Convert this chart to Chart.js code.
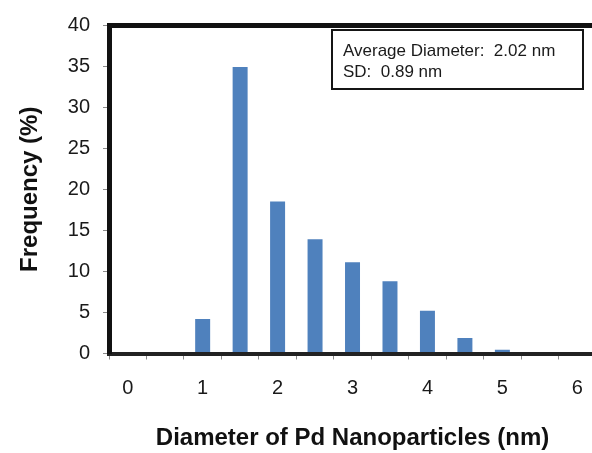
<!DOCTYPE html>
<html>
<head>
<meta charset="utf-8">
<title>Pd nanoparticle size distribution</title>
<script src="https://cdn.jsdelivr.net/npm/chart.js@4/dist/chart.umd.min.js"></script>
<style>
    html, body { margin: 0; padding: 0; background: #fff; }
    #wrap { width: 592px; height: 453px; overflow: hidden; }
</style>
</head>
<body>
<div id="wrap"><canvas id="sizeChart" width="600" height="453"></canvas></div>
<script>
// particle size bins (nm) and the share of particles in each (%)
const diameters = ['0', '0.5', '1', '1.5', '2', '2.5', '3', '3.5', '4', '4.5', '5', '5.5', '6'];
const frequency = [0, 0, 4.2, 34.9, 18.5, 13.9, 11.1, 8.8, 5.2, 1.9, 0.45, 0.15, 0.15];
const yTicks = [0, 5, 10, 15, 20, 25, 30, 35, 40];

const avgDiameter = 2.02;
const sdDiameter = 0.89;

Chart.defaults.font.family = '"Liberation Sans", Arial, sans-serif';
Chart.defaults.color = '#1a1a1a';

// little framed box with the mean / SD in the top right corner
const statsBox = {
    id: 'statsBox',
    afterDraw(chart) {
        const ctx = chart.ctx;
        ctx.save();
        ctx.fillStyle = '#fff';
        ctx.fillRect(332, 30, 251, 59);
        ctx.strokeStyle = '#151515';
        ctx.lineWidth = 2;
        ctx.strokeRect(332, 30, 251, 59);
        ctx.fillStyle = '#1a1a1a';
        ctx.font = '17px "Liberation Sans", Arial, sans-serif';
        ctx.textBaseline = 'alphabetic';
        ctx.fillText('Average Diameter:  ' + avgDiameter.toFixed(2) + ' nm', 343, 56);
        ctx.fillText('SD:  ' + sdDiameter.toFixed(2) + ' nm', 343, 77);
        ctx.restore();
    }
};

new Chart(document.getElementById('sizeChart'), {
    type: 'bar',
    data: {
        labels: diameters,
        datasets: [{
            data: frequency,
            backgroundColor: '#4F81BD',
            barPercentage: 0.4,
            categoryPercentage: 1
        }]
    },
    options: {
        responsive: false,
        animation: false,
        layout: {padding: {top: 21.5, right: 3.5, bottom: 0, left: 0}},
        plugins: {legend: {display: false}, tooltip: {enabled: false}},
        scales: {
            x: {
                grid: {drawOnChartArea: false, color: '#8a8a8a', tickLength: 6, offset: true},
                border: {color: '#222', width: 4, z: 1},
                ticks: {
                    autoSkip: false,
                    maxRotation: 0,
                    padding: 17,
                    font: {size: 20},
                    callback: (v, i) => i % 2 === 0 ? diameters[i] : ''
                },
                title: {
                    display: true,
                    text: 'Diameter of Pd Nanoparticles (nm)',
                    font: {size: 24, weight: 'bold'},
                    color: '#111',
                    padding: {top: 0, bottom: 0}
                },
                afterFit: scale => { scale.height = 99.5; }
            },
            y: {
                min: 0,
                max: 40,
                afterBuildTicks: scale => { scale.ticks = yTicks.map(v => ({value: v})); },
                grid: {
                    color: ctx => ctx.tick && ctx.tick.value === 40 ? '#111' : 'rgba(0,0,0,0)',
                    lineWidth: ctx => ctx.tick && ctx.tick.value === 40 ? 5 : 1,
                    tickColor: '#8a8a8a',
                    tickWidth: 1,
                    tickLength: 6
                },
                border: {color: '#111', width: 5, z: 1},
                ticks: {padding: 13, font: {size: 20}},
                title: {
                    display: true,
                    text: 'Frequency (%)',
                    font: {size: 24, weight: 'bold'},
                    color: '#111',
                    padding: {top: 16, bottom: 0}
                },
                afterFit: scale => { scale.width = 109; }
            }
        }
    },
    plugins: [statsBox]
});
</script>
</body>
</html>
